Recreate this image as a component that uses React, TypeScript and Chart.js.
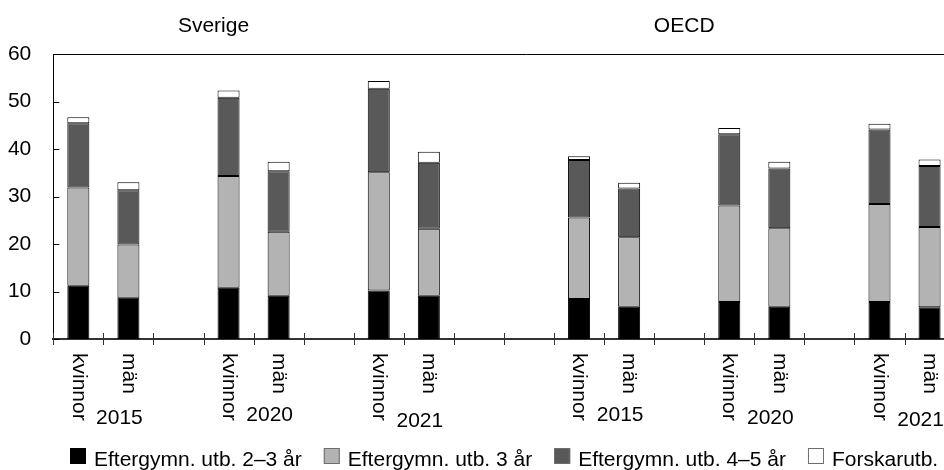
import React, { useEffect, useRef } from "react";
import { Chart, registerables } from "chart.js";

Chart.register(...registerables);

// ---- Data ----
const categories = [
  "kvinnor", "män", "",
  "kvinnor", "män", "",
  "kvinnor", "män", "", "",
  "kvinnor", "män", "",
  "kvinnor", "män", "",
  "kvinnor", "män",
];
const yearLabels = ["2015", "2020", "2021", "2015", "2020", "2021"];
const yearAnchorIndex = [1, 4, 7, 11, 14, 17];
const groupTitles = ["Sverige", "OECD"];
const groupTitleIndex = [2.7, 12.1];

const seriesNames = [
  "Eftergymn. utb. 2–3 år",
  "Eftergymn. utb. 3 år",
  "Eftergymn. utb. 4–5 år",
  "Forskarutb.",
];
const utb23 = [11.2, 8.7, null, 10.8, 9.1, null, 10.2, 9.1, null, null, 8.4, 6.8, null, 7.8, 6.8, null, 7.8, 6.7];
const utb3 = [20.7, 11.2, null, 23.5, 13.5, null, 24.9, 14.1, null, null, 17.2, 14.6, null, 20.3, 16.5, null, 20.6, 16.9];
const utb45 = [13.5, 11.4, null, 16.5, 12.7, null, 17.6, 13.9, null, null, 12.1, 10.3, null, 15.0, 12.6, null, 15.7, 12.8];
const forskar = [1.3, 1.7, null, 1.5, 2.0, null, 1.6, 2.3, null, null, 0.8, 1.2, null, 1.3, 1.4, null, 1.2, 1.4];

const yTicks = [0, 10, 20, 30, 40, 50, 60];

// ---- Styles ----
const fills = ["#000000", "#b3b3b3", "#595959", "#ffffff"];
const legendBorders = ["#000000", "#6e6e6e", "#6e6e6e", "#6e6e6e"];
const FONT = "'Liberation Sans', Arial, sans-serif";
const yearDy = [79, 76, 82, 76, 79, 81];

const decorPlugin = {
  id: "decor",
  afterDraw(chart: any) {
    const ctx = chart.ctx as CanvasRenderingContext2D;
    const { left, right, top, bottom } = chart.chartArea;
    const x = chart.scales.x;
    const y = chart.scales.y;
    const n = categories.length;
    const cw = (right - left) / n;

    ctx.save();
    // top border
    ctx.strokeStyle = "#000";
    ctx.lineWidth = 1;
    ctx.beginPath();
    ctx.moveTo(left, Math.round(top) + 0.5);
    ctx.lineTo(chart.width, Math.round(top) + 0.5);
    ctx.stroke();

    // y inner ticks
    yTicks.forEach((v) => {
      const py = Math.round(y.getPixelForValue(v)) + 0.5;
      ctx.beginPath();
      ctx.moveTo(left, py);
      ctx.lineTo(left + 6, py);
      ctx.stroke();
    });

    // x ticks at category boundaries, crossing axis
    ctx.strokeStyle = "#333";
    for (let i = 0; i <= n; i++) {
      const px = Math.round(left + i * cw) + 0.5;
      ctx.beginPath();
      ctx.moveTo(px, bottom - 6);
      ctx.lineTo(px, bottom + 6);
      ctx.stroke();
    }

    ctx.fillStyle = "#000";
    ctx.font = `21px ${FONT}`;
    // rotated category labels
    categories.forEach((lab, i) => {
      if (!lab) return;
      const px = x.getPixelForValue(i);
      ctx.save();
      ctx.translate(px, bottom + 14);
      ctx.rotate(Math.PI / 2);
      ctx.textAlign = "left";
      ctx.textBaseline = "middle";
      ctx.fillText(lab, 0, 0);
      ctx.restore();
    });

    // year labels
    ctx.textAlign = "center";
    ctx.textBaseline = "middle";
    yearLabels.forEach((lab, k) => {
      const px = x.getPixelForValue(yearAnchorIndex[k]) - 9;
      ctx.fillText(lab, px, bottom + yearDy[k]);
    });

    // group titles
    groupTitles.forEach((t, k) => {
      const px = left + (groupTitleIndex[k] + 0.5) * cw;
      ctx.fillText(t, px, top - 28);
    });

    // legend
    let lx = 70;
    const boxY = 448;
    ctx.textAlign = "left";
    ctx.textBaseline = "alphabetic";
    seriesNames.forEach((name, k) => {
      ctx.fillStyle = fills[k];
      ctx.fillRect(lx, boxY, 16, 16);
      ctx.strokeStyle = legendBorders[k];
      ctx.lineWidth = 1;
      ctx.strokeRect(lx + 0.5, boxY + 0.5, 15, 15);
      ctx.fillStyle = "#000";
      const tx = lx + 24;
      ctx.fillText(name, tx, 466);
      lx = tx + ctx.measureText(name).width + 22;
    });
    ctx.restore();
  },
};

export default function App() {
  const ref = useRef<HTMLCanvasElement>(null);

  useEffect(() => {
    if (!ref.current) return;
    const seriesData = [utb23, utb3, utb45, forskar];
    const chart = new Chart(ref.current, {
      type: "bar",
      data: {
        labels: categories,
        datasets: seriesData.map((d, k) => ({
          label: seriesNames[k],
          data: d,
          backgroundColor: fills[k],
          borderColor: "#000",
          borderWidth: 1,
          borderSkipped: false,
          categoryPercentage: 1,
          barPercentage: 0.44,
        })),
      },
      options: {
        responsive: false,
        animation: false,
        layout: { padding: { left: 0, top: 54, right: 45.4, bottom: 0 } },
        plugins: {
          legend: { display: false },
          tooltip: { enabled: false },
          title: { display: false },
        },
        scales: {
          x: {
            stacked: true,
            grid: { display: false },
            ticks: { display: false },
            border: { display: true, color: "#333", width: 2 },
            afterFit: (s: any) => {
              s.height = 131;
            },
          },
          y: {
            stacked: true,
            min: 0,
            max: 60,
            grid: { display: false },
            border: { display: true, color: "#000", width: 1 },
            ticks: {
              stepSize: 10,
              padding: 14,
              color: "#000",
              font: { family: FONT, size: 21 },
            },
            afterFit: (s: any) => {
              s.width = 53.3;
            },
          },
        },
      },
      plugins: [decorPlugin],
    });
    return () => chart.destroy();
  }, []);

  return (
    <div
      style={{
        position: "absolute",
        left: 0,
        top: 0,
        width: 944,
        height: 470,
        overflow: "hidden",
        background: "#fff",
      }}
    >
      <canvas ref={ref} width={1000} height={470} style={{ display: "block" }} />
    </div>
  );
}
